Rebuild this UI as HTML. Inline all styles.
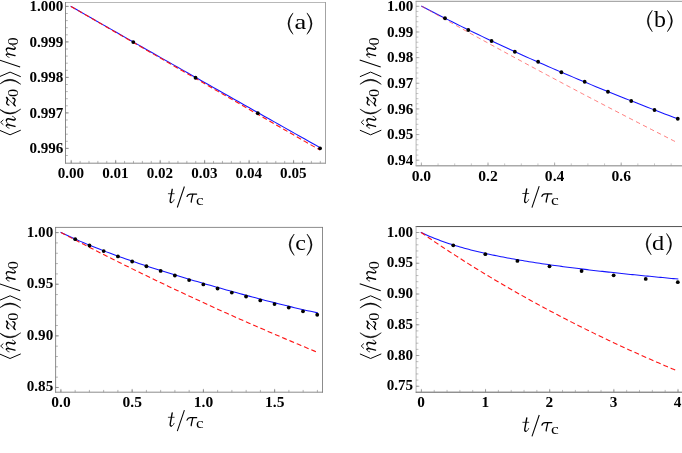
<!DOCTYPE html>
<html><head><meta charset="utf-8"><title>figure</title>
<style>
html,body{margin:0;padding:0;background:#fff;}
svg{display:block;}
text{font-family:"Liberation Serif",serif;fill:#000;}
.tl{font-weight:bold;font-size:15.1px;}
</style></head><body>
<svg width="682" height="453" viewBox="0 0 682 453" >
<rect width="682" height="453" fill="#fff"/>
<g opacity="0.999">
<line x1="65.1" y1="2.5" x2="325.9" y2="2.5" stroke="#999" stroke-width="0.7"/>
<line x1="65.5" y1="2.1" x2="65.5" y2="163.6" stroke="#6a6a6a" stroke-width="0.8"/>
<line x1="65.1" y1="163.2" x2="325.9" y2="163.2" stroke="#8a8a8a" stroke-width="1.0"/>
<line x1="325.5" y1="2.1" x2="325.5" y2="163.6" stroke="#999" stroke-width="0.9"/>
<line x1="71.20" y1="163.2" x2="71.20" y2="160.89999999999998" stroke="#777" stroke-width="0.55"/>
<line x1="80.10" y1="163.2" x2="80.10" y2="160.89999999999998" stroke="#777" stroke-width="0.55"/>
<line x1="88.99" y1="163.2" x2="88.99" y2="160.89999999999998" stroke="#777" stroke-width="0.55"/>
<line x1="97.89" y1="163.2" x2="97.89" y2="160.89999999999998" stroke="#777" stroke-width="0.55"/>
<line x1="106.78" y1="163.2" x2="106.78" y2="160.89999999999998" stroke="#777" stroke-width="0.55"/>
<line x1="115.68" y1="163.2" x2="115.68" y2="160.89999999999998" stroke="#777" stroke-width="0.55"/>
<line x1="124.58" y1="163.2" x2="124.58" y2="160.89999999999998" stroke="#777" stroke-width="0.55"/>
<line x1="133.47" y1="163.2" x2="133.47" y2="160.89999999999998" stroke="#777" stroke-width="0.55"/>
<line x1="142.37" y1="163.2" x2="142.37" y2="160.89999999999998" stroke="#777" stroke-width="0.55"/>
<line x1="151.26" y1="163.2" x2="151.26" y2="160.89999999999998" stroke="#777" stroke-width="0.55"/>
<line x1="160.16" y1="163.2" x2="160.16" y2="160.89999999999998" stroke="#777" stroke-width="0.55"/>
<line x1="169.06" y1="163.2" x2="169.06" y2="160.89999999999998" stroke="#777" stroke-width="0.55"/>
<line x1="177.95" y1="163.2" x2="177.95" y2="160.89999999999998" stroke="#777" stroke-width="0.55"/>
<line x1="186.85" y1="163.2" x2="186.85" y2="160.89999999999998" stroke="#777" stroke-width="0.55"/>
<line x1="195.74" y1="163.2" x2="195.74" y2="160.89999999999998" stroke="#777" stroke-width="0.55"/>
<line x1="204.64" y1="163.2" x2="204.64" y2="160.89999999999998" stroke="#777" stroke-width="0.55"/>
<line x1="213.54" y1="163.2" x2="213.54" y2="160.89999999999998" stroke="#777" stroke-width="0.55"/>
<line x1="222.43" y1="163.2" x2="222.43" y2="160.89999999999998" stroke="#777" stroke-width="0.55"/>
<line x1="231.33" y1="163.2" x2="231.33" y2="160.89999999999998" stroke="#777" stroke-width="0.55"/>
<line x1="240.22" y1="163.2" x2="240.22" y2="160.89999999999998" stroke="#777" stroke-width="0.55"/>
<line x1="249.12" y1="163.2" x2="249.12" y2="160.89999999999998" stroke="#777" stroke-width="0.55"/>
<line x1="258.02" y1="163.2" x2="258.02" y2="160.89999999999998" stroke="#777" stroke-width="0.55"/>
<line x1="266.91" y1="163.2" x2="266.91" y2="160.89999999999998" stroke="#777" stroke-width="0.55"/>
<line x1="275.81" y1="163.2" x2="275.81" y2="160.89999999999998" stroke="#777" stroke-width="0.55"/>
<line x1="284.70" y1="163.2" x2="284.70" y2="160.89999999999998" stroke="#777" stroke-width="0.55"/>
<line x1="293.60" y1="163.2" x2="293.60" y2="160.89999999999998" stroke="#777" stroke-width="0.55"/>
<line x1="302.50" y1="163.2" x2="302.50" y2="160.89999999999998" stroke="#777" stroke-width="0.55"/>
<line x1="311.39" y1="163.2" x2="311.39" y2="160.89999999999998" stroke="#777" stroke-width="0.55"/>
<line x1="320.29" y1="163.2" x2="320.29" y2="160.89999999999998" stroke="#777" stroke-width="0.55"/>
<line x1="71.20" y1="163.2" x2="71.20" y2="159.89999999999998" stroke="#777" stroke-width="0.65"/>
<text x="70.90" y="178.0" class="tl" style="font-size:15.1px" text-anchor="middle">0.00</text>
<line x1="115.68" y1="163.2" x2="115.68" y2="159.89999999999998" stroke="#777" stroke-width="0.65"/>
<text x="115.38" y="178.0" class="tl" style="font-size:15.1px" text-anchor="middle">0.01</text>
<line x1="160.16" y1="163.2" x2="160.16" y2="159.89999999999998" stroke="#777" stroke-width="0.65"/>
<text x="159.86" y="178.0" class="tl" style="font-size:15.1px" text-anchor="middle">0.02</text>
<line x1="204.64" y1="163.2" x2="204.64" y2="159.89999999999998" stroke="#777" stroke-width="0.65"/>
<text x="204.34" y="178.0" class="tl" style="font-size:15.1px" text-anchor="middle">0.03</text>
<line x1="249.12" y1="163.2" x2="249.12" y2="159.89999999999998" stroke="#777" stroke-width="0.65"/>
<text x="248.82" y="178.0" class="tl" style="font-size:15.1px" text-anchor="middle">0.04</text>
<line x1="293.60" y1="163.2" x2="293.60" y2="159.89999999999998" stroke="#777" stroke-width="0.65"/>
<text x="293.30" y="178.0" class="tl" style="font-size:15.1px" text-anchor="middle">0.05</text>
<line x1="65.5" y1="6.40" x2="67.8" y2="6.40" stroke="#777" stroke-width="0.55"/>
<line x1="65.5" y1="13.50" x2="67.8" y2="13.50" stroke="#777" stroke-width="0.55"/>
<line x1="65.5" y1="20.60" x2="67.8" y2="20.60" stroke="#777" stroke-width="0.55"/>
<line x1="65.5" y1="27.70" x2="67.8" y2="27.70" stroke="#777" stroke-width="0.55"/>
<line x1="65.5" y1="34.80" x2="67.8" y2="34.80" stroke="#777" stroke-width="0.55"/>
<line x1="65.5" y1="41.90" x2="67.8" y2="41.90" stroke="#777" stroke-width="0.55"/>
<line x1="65.5" y1="49.00" x2="67.8" y2="49.00" stroke="#777" stroke-width="0.55"/>
<line x1="65.5" y1="56.10" x2="67.8" y2="56.10" stroke="#777" stroke-width="0.55"/>
<line x1="65.5" y1="63.20" x2="67.8" y2="63.20" stroke="#777" stroke-width="0.55"/>
<line x1="65.5" y1="70.30" x2="67.8" y2="70.30" stroke="#777" stroke-width="0.55"/>
<line x1="65.5" y1="77.40" x2="67.8" y2="77.40" stroke="#777" stroke-width="0.55"/>
<line x1="65.5" y1="84.50" x2="67.8" y2="84.50" stroke="#777" stroke-width="0.55"/>
<line x1="65.5" y1="91.60" x2="67.8" y2="91.60" stroke="#777" stroke-width="0.55"/>
<line x1="65.5" y1="98.70" x2="67.8" y2="98.70" stroke="#777" stroke-width="0.55"/>
<line x1="65.5" y1="105.80" x2="67.8" y2="105.80" stroke="#777" stroke-width="0.55"/>
<line x1="65.5" y1="112.90" x2="67.8" y2="112.90" stroke="#777" stroke-width="0.55"/>
<line x1="65.5" y1="120.00" x2="67.8" y2="120.00" stroke="#777" stroke-width="0.55"/>
<line x1="65.5" y1="127.10" x2="67.8" y2="127.10" stroke="#777" stroke-width="0.55"/>
<line x1="65.5" y1="134.20" x2="67.8" y2="134.20" stroke="#777" stroke-width="0.55"/>
<line x1="65.5" y1="141.30" x2="67.8" y2="141.30" stroke="#777" stroke-width="0.55"/>
<line x1="65.5" y1="148.40" x2="67.8" y2="148.40" stroke="#777" stroke-width="0.55"/>
<line x1="65.5" y1="155.50" x2="67.8" y2="155.50" stroke="#777" stroke-width="0.55"/>
<line x1="65.5" y1="6.40" x2="68.8" y2="6.40" stroke="#777" stroke-width="0.65"/>
<text x="63.4" y="11.00" class="tl" text-anchor="end">1.000</text>
<line x1="65.5" y1="41.90" x2="68.8" y2="41.90" stroke="#777" stroke-width="0.65"/>
<text x="63.4" y="46.50" class="tl" text-anchor="end">0.999</text>
<line x1="65.5" y1="77.40" x2="68.8" y2="77.40" stroke="#777" stroke-width="0.65"/>
<text x="63.4" y="82.00" class="tl" text-anchor="end">0.998</text>
<line x1="65.5" y1="112.90" x2="68.8" y2="112.90" stroke="#777" stroke-width="0.65"/>
<text x="63.4" y="117.50" class="tl" text-anchor="end">0.997</text>
<line x1="65.5" y1="148.40" x2="68.8" y2="148.40" stroke="#777" stroke-width="0.65"/>
<text x="63.4" y="153.00" class="tl" text-anchor="end">0.996</text>
<polyline points="71.00,6.40 76.08,9.31 81.17,12.22 86.25,15.13 91.33,18.03 96.42,20.94 101.50,23.84 106.58,26.74 111.67,29.65 116.75,32.55 121.83,35.45 126.92,38.34 132.00,41.24 137.08,44.14 142.17,47.03 147.25,49.93 152.33,52.82 157.42,55.71 162.50,58.60 167.59,61.49 172.67,64.38 177.75,67.27 182.84,70.15 187.92,73.04 193.00,75.92 198.09,78.80 203.17,81.69 208.25,84.57 213.34,87.44 218.42,90.32 223.50,93.20 228.59,96.08 233.67,98.95 238.75,101.82 243.84,104.70 248.92,107.57 254.00,110.44 259.09,113.31 264.17,116.18 269.25,119.04 274.34,121.91 279.42,124.77 284.50,127.64 289.59,130.50 294.67,133.36 299.75,136.22 304.84,139.08 309.92,141.94 315.00,144.79 320.09,147.65" fill="none" stroke="#1414ff" stroke-width="1.05" stroke-linecap="square"/>
<polyline points="71.00,6.40 76.08,9.35 81.17,12.29 86.25,15.23 91.33,18.18 96.42,21.12 101.50,24.06 106.58,27.01 111.67,29.95 116.75,32.89 121.83,35.83 126.92,38.77 132.00,41.71 137.08,44.65 142.17,47.59 147.25,50.53 152.33,53.47 157.42,56.40 162.50,59.34 167.59,62.28 172.67,65.21 177.75,68.15 182.84,71.08 187.92,74.02 193.00,76.95 198.09,79.88 203.17,82.82 208.25,85.75 213.34,88.68 218.42,91.61 223.50,94.55 228.59,97.48 233.67,100.41 238.75,103.34 243.84,106.26 248.92,109.19 254.00,112.12 259.09,115.05 264.17,117.98 269.25,120.90 274.34,123.83 279.42,126.76 284.50,129.68 289.59,132.61 294.67,135.53 299.75,138.45 304.84,141.38 309.92,144.30 315.00,147.22 320.09,150.14" fill="none" stroke="#ff1414" stroke-width="1.1" stroke-dasharray="5.0,2.9"/>
<circle cx="133.27" cy="42.11" r="1.9" fill="#000"/>
<circle cx="195.54" cy="77.75" r="1.9" fill="#000"/>
<circle cx="257.82" cy="113.25" r="1.9" fill="#000"/>
<circle cx="320.09" cy="148.29" r="1.9" fill="#000"/>
<g transform="translate(167.9,202.8) scale(1.0)"><g transform="translate(0.00,0)" fill="none" stroke="#000" stroke-linecap="round" stroke-linejoin="round"><path d="M4.3,-13.5 L2.4,-3.0 C2.0,-0.9 2.5,-0.3 3.4,-0.3" stroke-width="1.35"/><path d="M3.4,-0.3 C4.6,-0.3 5.6,-1.4 6.2,-3.1" stroke-width="0.75"/><path d="M0.4,-9.1 L6.3,-9.1" stroke-width="0.75"/></g><line x1="9.40" y1="4.7" x2="16.50" y2="-16.3" stroke="#000" stroke-width="1.05"/><g transform="translate(18.70,0)" fill="none" stroke="#000" stroke-linecap="round" stroke-linejoin="round"><path d="M0.4,-6.3 C1.0,-8.0 2.1,-8.7 3.6,-8.7 L10.1,-8.7" stroke-width="1.2"/><path d="M6.2,-8.5 C5.6,-5.6 4.7,-3.0 4.6,-0.7" stroke-width="1.25"/></g><text transform="translate(28.02,1.90) scale(1.163,1)" style="font-style:normal;font-weight:normal;font-size:14.68px">c</text></g>
<g transform="translate(15.45,137) rotate(-90)"><polyline points="6.80,-16.1 2.20,-5.4 6.80,5.3" fill="none" stroke="#000" stroke-width="1" stroke-linejoin="miter"/><g transform="translate(8.50,0)" fill="none" stroke="#000" stroke-linecap="round" stroke-linejoin="round"><path d="M0.3,-6.3 C0.8,-8.2 1.8,-9.2 2.8,-9.1" stroke-width="0.75"/><path d="M2.8,-9.1 C3.9,-9.0 3.9,-7.8 3.6,-6.6 L2.1,-0.5" stroke-width="1.45"/><path d="M3.3,-5.6 C4.7,-8.0 6.4,-9.2 7.9,-9.1" stroke-width="0.8"/><path d="M7.9,-9.1 C9.6,-9.0 9.9,-7.6 9.5,-6.0 L8.7,-2.7 C8.3,-1.0 8.7,-0.3 9.6,-0.3" stroke-width="1.45"/><path d="M9.6,-0.3 C10.7,-0.3 11.6,-1.3 12.2,-3.0" stroke-width="0.75"/></g><polyline points="12.20,-12.1 14.70,-14.8 17.20,-12.1" fill="none" stroke="#000" stroke-width="0.9"/><path d="M27.90,-16.1 Q17.90,-5.4 27.90,5.3 Q20.20,-5.4 27.90,-16.1Z" fill="#000" stroke="#000" stroke-width="0.5" stroke-linejoin="round"/><g transform="translate(30.40,0)" fill="none" stroke="#000" stroke-linecap="round" stroke-linejoin="round"><path d="M1.5,-6.6 C2.1,-8.6 3.5,-9.3 4.9,-8.5 C6.3,-7.7 8.1,-7.5 9.2,-9.0" stroke-width="1.35"/><path d="M9.2,-9.0 L0.8,-0.3" stroke-width="0.75"/><path d="M0.8,-0.3 C1.9,-2.0 3.5,-1.9 4.9,-1.0 C6.3,-0.1 7.9,0.1 8.6,-2.6" stroke-width="1.35"/></g><text transform="translate(39.94,2.90) scale(1.115,1)" style="font-style:normal;font-weight:normal;font-size:14.74px">0</text><path d="M52.70,-16.1 Q62.70,-5.4 52.70,5.3 Q60.40,-5.4 52.70,-16.1Z" fill="#000" stroke="#000" stroke-width="0.5" stroke-linejoin="round"/><polyline points="60.30,-16.1 64.90,-5.4 60.30,5.3" fill="none" stroke="#000" stroke-width="1" stroke-linejoin="miter"/><line x1="69.90" y1="4.7" x2="77.00" y2="-16.3" stroke="#000" stroke-width="1.05"/><g transform="translate(79.30,0)" fill="none" stroke="#000" stroke-linecap="round" stroke-linejoin="round"><path d="M0.3,-6.3 C0.8,-8.2 1.8,-9.2 2.8,-9.1" stroke-width="0.75"/><path d="M2.8,-9.1 C3.9,-9.0 3.9,-7.8 3.6,-6.6 L2.1,-0.5" stroke-width="1.45"/><path d="M3.3,-5.6 C4.7,-8.0 6.4,-9.2 7.9,-9.1" stroke-width="0.8"/><path d="M7.9,-9.1 C9.6,-9.0 9.9,-7.6 9.5,-6.0 L8.7,-2.7 C8.3,-1.0 8.7,-0.3 9.6,-0.3" stroke-width="1.45"/><path d="M9.6,-0.3 C10.7,-0.3 11.6,-1.3 12.2,-3.0" stroke-width="0.75"/></g><text transform="translate(91.44,2.90) scale(1.115,1)" style="font-style:normal;font-weight:normal;font-size:14.74px">0</text></g>
<g transform="translate(0,29.0)"><path d="M293.00,-16.1 Q283.00,-5.4 293.00,5.3 Q285.30,-5.4 293.00,-16.1Z" fill="#000" stroke="#000" stroke-width="0.5" stroke-linejoin="round"/><text transform="translate(294.57,0.15) scale(1.301,1)" style="font-style:normal;font-weight:normal;font-size:20.43px">a</text><path d="M307.00,-16.1 Q317.00,-5.4 307.00,5.3 Q314.70,-5.4 307.00,-16.1Z" fill="#000" stroke="#000" stroke-width="0.5" stroke-linejoin="round"/></g>
<line x1="415.70000000000005" y1="1.3" x2="687" y2="1.3" stroke="#777" stroke-width="0.8"/>
<line x1="416.1" y1="0.9" x2="416.1" y2="166.1" stroke="#999" stroke-width="0.7"/>
<line x1="415.70000000000005" y1="165.7" x2="687" y2="165.7" stroke="#aaa" stroke-width="1.4"/>
<line x1="421.40" y1="165.7" x2="421.40" y2="163.39999999999998" stroke="#999" stroke-width="0.55"/>
<line x1="438.05" y1="165.7" x2="438.05" y2="163.39999999999998" stroke="#999" stroke-width="0.55"/>
<line x1="454.70" y1="165.7" x2="454.70" y2="163.39999999999998" stroke="#999" stroke-width="0.55"/>
<line x1="471.35" y1="165.7" x2="471.35" y2="163.39999999999998" stroke="#999" stroke-width="0.55"/>
<line x1="488.00" y1="165.7" x2="488.00" y2="163.39999999999998" stroke="#999" stroke-width="0.55"/>
<line x1="504.65" y1="165.7" x2="504.65" y2="163.39999999999998" stroke="#999" stroke-width="0.55"/>
<line x1="521.30" y1="165.7" x2="521.30" y2="163.39999999999998" stroke="#999" stroke-width="0.55"/>
<line x1="537.95" y1="165.7" x2="537.95" y2="163.39999999999998" stroke="#999" stroke-width="0.55"/>
<line x1="554.60" y1="165.7" x2="554.60" y2="163.39999999999998" stroke="#999" stroke-width="0.55"/>
<line x1="571.25" y1="165.7" x2="571.25" y2="163.39999999999998" stroke="#999" stroke-width="0.55"/>
<line x1="587.90" y1="165.7" x2="587.90" y2="163.39999999999998" stroke="#999" stroke-width="0.55"/>
<line x1="604.55" y1="165.7" x2="604.55" y2="163.39999999999998" stroke="#999" stroke-width="0.55"/>
<line x1="621.20" y1="165.7" x2="621.20" y2="163.39999999999998" stroke="#999" stroke-width="0.55"/>
<line x1="637.85" y1="165.7" x2="637.85" y2="163.39999999999998" stroke="#999" stroke-width="0.55"/>
<line x1="654.50" y1="165.7" x2="654.50" y2="163.39999999999998" stroke="#999" stroke-width="0.55"/>
<line x1="671.15" y1="165.7" x2="671.15" y2="163.39999999999998" stroke="#999" stroke-width="0.55"/>
<line x1="421.40" y1="165.7" x2="421.40" y2="162.39999999999998" stroke="#999" stroke-width="0.65"/>
<text x="421.40" y="180.5" class="tl" style="font-size:15.6px" text-anchor="middle">0.0</text>
<line x1="488.00" y1="165.7" x2="488.00" y2="162.39999999999998" stroke="#999" stroke-width="0.65"/>
<text x="488.00" y="180.5" class="tl" style="font-size:15.6px" text-anchor="middle">0.2</text>
<line x1="554.60" y1="165.7" x2="554.60" y2="162.39999999999998" stroke="#999" stroke-width="0.65"/>
<text x="554.60" y="180.5" class="tl" style="font-size:15.6px" text-anchor="middle">0.4</text>
<line x1="621.20" y1="165.7" x2="621.20" y2="162.39999999999998" stroke="#999" stroke-width="0.65"/>
<text x="621.20" y="180.5" class="tl" style="font-size:15.6px" text-anchor="middle">0.6</text>
<line x1="416.1" y1="6.33" x2="418.40000000000003" y2="6.33" stroke="#999" stroke-width="0.55"/>
<line x1="416.1" y1="11.46" x2="418.40000000000003" y2="11.46" stroke="#999" stroke-width="0.55"/>
<line x1="416.1" y1="16.59" x2="418.40000000000003" y2="16.59" stroke="#999" stroke-width="0.55"/>
<line x1="416.1" y1="21.72" x2="418.40000000000003" y2="21.72" stroke="#999" stroke-width="0.55"/>
<line x1="416.1" y1="26.85" x2="418.40000000000003" y2="26.85" stroke="#999" stroke-width="0.55"/>
<line x1="416.1" y1="31.98" x2="418.40000000000003" y2="31.98" stroke="#999" stroke-width="0.55"/>
<line x1="416.1" y1="37.10" x2="418.40000000000003" y2="37.10" stroke="#999" stroke-width="0.55"/>
<line x1="416.1" y1="42.23" x2="418.40000000000003" y2="42.23" stroke="#999" stroke-width="0.55"/>
<line x1="416.1" y1="47.36" x2="418.40000000000003" y2="47.36" stroke="#999" stroke-width="0.55"/>
<line x1="416.1" y1="52.49" x2="418.40000000000003" y2="52.49" stroke="#999" stroke-width="0.55"/>
<line x1="416.1" y1="57.62" x2="418.40000000000003" y2="57.62" stroke="#999" stroke-width="0.55"/>
<line x1="416.1" y1="62.75" x2="418.40000000000003" y2="62.75" stroke="#999" stroke-width="0.55"/>
<line x1="416.1" y1="67.88" x2="418.40000000000003" y2="67.88" stroke="#999" stroke-width="0.55"/>
<line x1="416.1" y1="73.01" x2="418.40000000000003" y2="73.01" stroke="#999" stroke-width="0.55"/>
<line x1="416.1" y1="78.14" x2="418.40000000000003" y2="78.14" stroke="#999" stroke-width="0.55"/>
<line x1="416.1" y1="83.27" x2="418.40000000000003" y2="83.27" stroke="#999" stroke-width="0.55"/>
<line x1="416.1" y1="88.39" x2="418.40000000000003" y2="88.39" stroke="#999" stroke-width="0.55"/>
<line x1="416.1" y1="93.52" x2="418.40000000000003" y2="93.52" stroke="#999" stroke-width="0.55"/>
<line x1="416.1" y1="98.65" x2="418.40000000000003" y2="98.65" stroke="#999" stroke-width="0.55"/>
<line x1="416.1" y1="103.78" x2="418.40000000000003" y2="103.78" stroke="#999" stroke-width="0.55"/>
<line x1="416.1" y1="108.91" x2="418.40000000000003" y2="108.91" stroke="#999" stroke-width="0.55"/>
<line x1="416.1" y1="114.04" x2="418.40000000000003" y2="114.04" stroke="#999" stroke-width="0.55"/>
<line x1="416.1" y1="119.17" x2="418.40000000000003" y2="119.17" stroke="#999" stroke-width="0.55"/>
<line x1="416.1" y1="124.30" x2="418.40000000000003" y2="124.30" stroke="#999" stroke-width="0.55"/>
<line x1="416.1" y1="129.43" x2="418.40000000000003" y2="129.43" stroke="#999" stroke-width="0.55"/>
<line x1="416.1" y1="134.56" x2="418.40000000000003" y2="134.56" stroke="#999" stroke-width="0.55"/>
<line x1="416.1" y1="139.68" x2="418.40000000000003" y2="139.68" stroke="#999" stroke-width="0.55"/>
<line x1="416.1" y1="144.81" x2="418.40000000000003" y2="144.81" stroke="#999" stroke-width="0.55"/>
<line x1="416.1" y1="149.94" x2="418.40000000000003" y2="149.94" stroke="#999" stroke-width="0.55"/>
<line x1="416.1" y1="155.07" x2="418.40000000000003" y2="155.07" stroke="#999" stroke-width="0.55"/>
<line x1="416.1" y1="160.20" x2="418.40000000000003" y2="160.20" stroke="#999" stroke-width="0.55"/>
<line x1="416.1" y1="6.33" x2="419.40000000000003" y2="6.33" stroke="#999" stroke-width="0.65"/>
<text x="413.3" y="10.93" class="tl" text-anchor="end">1.00</text>
<line x1="416.1" y1="31.98" x2="419.40000000000003" y2="31.98" stroke="#999" stroke-width="0.65"/>
<text x="413.3" y="36.58" class="tl" text-anchor="end">0.99</text>
<line x1="416.1" y1="57.62" x2="419.40000000000003" y2="57.62" stroke="#999" stroke-width="0.65"/>
<text x="413.3" y="62.22" class="tl" text-anchor="end">0.98</text>
<line x1="416.1" y1="83.27" x2="419.40000000000003" y2="83.27" stroke="#999" stroke-width="0.65"/>
<text x="413.3" y="87.87" class="tl" text-anchor="end">0.97</text>
<line x1="416.1" y1="108.91" x2="419.40000000000003" y2="108.91" stroke="#999" stroke-width="0.65"/>
<text x="413.3" y="113.51" class="tl" text-anchor="end">0.96</text>
<line x1="416.1" y1="134.56" x2="419.40000000000003" y2="134.56" stroke="#999" stroke-width="0.65"/>
<text x="413.3" y="139.16" class="tl" text-anchor="end">0.95</text>
<line x1="416.1" y1="160.20" x2="419.40000000000003" y2="160.20" stroke="#999" stroke-width="0.65"/>
<text x="413.3" y="164.80" class="tl" text-anchor="end">0.94</text>
<polyline points="421.75,6.25 426.09,8.52 430.43,10.77 434.77,13.01 439.11,15.23 443.45,17.44 447.79,19.63 452.13,21.80 456.47,23.96 460.80,26.11 465.14,28.24 469.48,30.36 473.82,32.46 478.16,34.55 482.50,36.63 486.84,38.69 491.18,40.74 495.52,42.77 499.86,44.80 504.20,46.81 508.54,48.80 512.88,50.79 517.22,52.76 521.56,54.72 525.90,56.67 530.24,58.61 534.57,60.53 538.91,62.45 543.25,64.35 547.59,66.24 551.93,68.12 556.27,69.99 560.61,71.86 564.95,73.71 569.29,75.55 573.63,77.38 577.97,79.20 582.31,81.01 586.65,82.81 590.99,84.61 595.33,86.39 599.67,88.17 604.01,89.94 608.34,91.70 612.68,93.45 617.02,95.19 621.36,96.93 625.70,98.66 630.04,100.38 634.38,102.09 638.72,103.80 643.06,105.50 647.40,107.20 651.74,108.88 656.08,110.56 660.42,112.24 664.76,113.91 669.10,115.57 673.44,117.23 677.78,118.89" fill="none" stroke="#1414ff" stroke-width="1.05" stroke-linecap="square"/>
<polyline points="421.75,6.25 426.09,8.69 430.43,11.13 434.77,13.57 439.11,16.00 443.45,18.42 447.79,20.84 452.13,23.26 456.47,25.67 460.80,28.07 465.14,30.48 469.48,32.87 473.82,35.27 478.16,37.65 482.50,40.04 486.84,42.42 491.18,44.79 495.52,47.16 499.86,49.53 504.20,51.89 508.54,54.25 512.88,56.60 517.22,58.95 521.56,61.29 525.90,63.63 530.24,65.97 534.57,68.30 538.91,70.63 543.25,72.95 547.59,75.27 551.93,77.58 556.27,79.89 560.61,82.19 564.95,84.50 569.29,86.79 573.63,89.08 577.97,91.37 582.31,93.66 586.65,95.94 590.99,98.21 595.33,100.48 599.67,102.75 604.01,105.01 608.34,107.27 612.68,109.53 617.02,111.78 621.36,114.02 625.70,116.27 630.04,118.51 634.38,120.74 638.72,122.97 643.06,125.20 647.40,127.42 651.74,129.64 656.08,131.85 660.42,134.06 664.76,136.27 669.10,138.47 673.44,140.67 677.78,142.86" fill="none" stroke="#ff4a4a" stroke-width="0.7" stroke-dasharray="4.5,3.35"/>
<circle cx="445.02" cy="18.24" r="1.9" fill="#000"/>
<circle cx="468.30" cy="29.99" r="1.9" fill="#000"/>
<circle cx="491.57" cy="41.01" r="1.9" fill="#000"/>
<circle cx="514.85" cy="51.74" r="1.9" fill="#000"/>
<circle cx="538.12" cy="61.75" r="1.9" fill="#000"/>
<circle cx="561.40" cy="72.25" r="1.9" fill="#000"/>
<circle cx="584.67" cy="81.75" r="1.9" fill="#000"/>
<circle cx="607.95" cy="91.76" r="1.9" fill="#000"/>
<circle cx="631.23" cy="101.00" r="1.9" fill="#000"/>
<circle cx="654.50" cy="110.01" r="1.9" fill="#000"/>
<circle cx="677.78" cy="118.76" r="1.9" fill="#000"/>
<g transform="translate(522.3,202.8) scale(1.025)"><g transform="translate(0.00,0)" fill="none" stroke="#000" stroke-linecap="round" stroke-linejoin="round"><path d="M4.3,-13.5 L2.4,-3.0 C2.0,-0.9 2.5,-0.3 3.4,-0.3" stroke-width="1.35"/><path d="M3.4,-0.3 C4.6,-0.3 5.6,-1.4 6.2,-3.1" stroke-width="0.75"/><path d="M0.4,-9.1 L6.3,-9.1" stroke-width="0.75"/></g><line x1="9.40" y1="4.7" x2="16.50" y2="-16.3" stroke="#000" stroke-width="1.05"/><g transform="translate(18.70,0)" fill="none" stroke="#000" stroke-linecap="round" stroke-linejoin="round"><path d="M0.4,-6.3 C1.0,-8.0 2.1,-8.7 3.6,-8.7 L10.1,-8.7" stroke-width="1.2"/><path d="M6.2,-8.5 C5.6,-5.6 4.7,-3.0 4.6,-0.7" stroke-width="1.25"/></g><text transform="translate(28.02,1.90) scale(1.163,1)" style="font-style:normal;font-weight:normal;font-size:14.68px">c</text></g>
<g transform="translate(376,137) rotate(-90)"><polyline points="6.80,-16.1 2.20,-5.4 6.80,5.3" fill="none" stroke="#000" stroke-width="1" stroke-linejoin="miter"/><g transform="translate(8.50,0)" fill="none" stroke="#000" stroke-linecap="round" stroke-linejoin="round"><path d="M0.3,-6.3 C0.8,-8.2 1.8,-9.2 2.8,-9.1" stroke-width="0.75"/><path d="M2.8,-9.1 C3.9,-9.0 3.9,-7.8 3.6,-6.6 L2.1,-0.5" stroke-width="1.45"/><path d="M3.3,-5.6 C4.7,-8.0 6.4,-9.2 7.9,-9.1" stroke-width="0.8"/><path d="M7.9,-9.1 C9.6,-9.0 9.9,-7.6 9.5,-6.0 L8.7,-2.7 C8.3,-1.0 8.7,-0.3 9.6,-0.3" stroke-width="1.45"/><path d="M9.6,-0.3 C10.7,-0.3 11.6,-1.3 12.2,-3.0" stroke-width="0.75"/></g><polyline points="12.20,-12.1 14.70,-14.8 17.20,-12.1" fill="none" stroke="#000" stroke-width="0.9"/><path d="M27.90,-16.1 Q17.90,-5.4 27.90,5.3 Q20.20,-5.4 27.90,-16.1Z" fill="#000" stroke="#000" stroke-width="0.5" stroke-linejoin="round"/><g transform="translate(30.40,0)" fill="none" stroke="#000" stroke-linecap="round" stroke-linejoin="round"><path d="M1.5,-6.6 C2.1,-8.6 3.5,-9.3 4.9,-8.5 C6.3,-7.7 8.1,-7.5 9.2,-9.0" stroke-width="1.35"/><path d="M9.2,-9.0 L0.8,-0.3" stroke-width="0.75"/><path d="M0.8,-0.3 C1.9,-2.0 3.5,-1.9 4.9,-1.0 C6.3,-0.1 7.9,0.1 8.6,-2.6" stroke-width="1.35"/></g><text transform="translate(39.94,2.90) scale(1.115,1)" style="font-style:normal;font-weight:normal;font-size:14.74px">0</text><path d="M52.70,-16.1 Q62.70,-5.4 52.70,5.3 Q60.40,-5.4 52.70,-16.1Z" fill="#000" stroke="#000" stroke-width="0.5" stroke-linejoin="round"/><polyline points="60.30,-16.1 64.90,-5.4 60.30,5.3" fill="none" stroke="#000" stroke-width="1" stroke-linejoin="miter"/><line x1="69.90" y1="4.7" x2="77.00" y2="-16.3" stroke="#000" stroke-width="1.05"/><g transform="translate(79.30,0)" fill="none" stroke="#000" stroke-linecap="round" stroke-linejoin="round"><path d="M0.3,-6.3 C0.8,-8.2 1.8,-9.2 2.8,-9.1" stroke-width="0.75"/><path d="M2.8,-9.1 C3.9,-9.0 3.9,-7.8 3.6,-6.6 L2.1,-0.5" stroke-width="1.45"/><path d="M3.3,-5.6 C4.7,-8.0 6.4,-9.2 7.9,-9.1" stroke-width="0.8"/><path d="M7.9,-9.1 C9.6,-9.0 9.9,-7.6 9.5,-6.0 L8.7,-2.7 C8.3,-1.0 8.7,-0.3 9.6,-0.3" stroke-width="1.45"/><path d="M9.6,-0.3 C10.7,-0.3 11.6,-1.3 12.2,-3.0" stroke-width="0.75"/></g><text transform="translate(91.44,2.90) scale(1.115,1)" style="font-style:normal;font-weight:normal;font-size:14.74px">0</text></g>
<g transform="translate(0,26.4)"><path d="M652.30,-16.1 Q642.30,-5.4 652.30,5.3 Q644.60,-5.4 652.30,-16.1Z" fill="#000" stroke="#000" stroke-width="0.5" stroke-linejoin="round"/><text transform="translate(654.10,0.15) scale(1.071,1)" style="font-style:normal;font-weight:normal;font-size:22.32px">b</text><path d="M667.40,-16.1 Q677.40,-5.4 667.40,5.3 Q675.10,-5.4 667.40,-16.1Z" fill="#000" stroke="#000" stroke-width="0.5" stroke-linejoin="round"/></g>
<line x1="55.2" y1="227.4" x2="322.9" y2="227.4" stroke="#777" stroke-width="0.85"/>
<line x1="55.6" y1="227.0" x2="55.6" y2="392.59999999999997" stroke="#777" stroke-width="0.85"/>
<line x1="55.2" y1="392.2" x2="322.9" y2="392.2" stroke="#777" stroke-width="0.85"/>
<line x1="322.5" y1="227.0" x2="322.5" y2="392.59999999999997" stroke="#777" stroke-width="0.85"/>
<line x1="60.90" y1="392.2" x2="60.90" y2="389.9" stroke="#777" stroke-width="0.55"/>
<line x1="75.15" y1="392.2" x2="75.15" y2="389.9" stroke="#777" stroke-width="0.55"/>
<line x1="89.40" y1="392.2" x2="89.40" y2="389.9" stroke="#777" stroke-width="0.55"/>
<line x1="103.65" y1="392.2" x2="103.65" y2="389.9" stroke="#777" stroke-width="0.55"/>
<line x1="117.90" y1="392.2" x2="117.90" y2="389.9" stroke="#777" stroke-width="0.55"/>
<line x1="132.15" y1="392.2" x2="132.15" y2="389.9" stroke="#777" stroke-width="0.55"/>
<line x1="146.40" y1="392.2" x2="146.40" y2="389.9" stroke="#777" stroke-width="0.55"/>
<line x1="160.65" y1="392.2" x2="160.65" y2="389.9" stroke="#777" stroke-width="0.55"/>
<line x1="174.90" y1="392.2" x2="174.90" y2="389.9" stroke="#777" stroke-width="0.55"/>
<line x1="189.15" y1="392.2" x2="189.15" y2="389.9" stroke="#777" stroke-width="0.55"/>
<line x1="203.40" y1="392.2" x2="203.40" y2="389.9" stroke="#777" stroke-width="0.55"/>
<line x1="217.65" y1="392.2" x2="217.65" y2="389.9" stroke="#777" stroke-width="0.55"/>
<line x1="231.90" y1="392.2" x2="231.90" y2="389.9" stroke="#777" stroke-width="0.55"/>
<line x1="246.15" y1="392.2" x2="246.15" y2="389.9" stroke="#777" stroke-width="0.55"/>
<line x1="260.40" y1="392.2" x2="260.40" y2="389.9" stroke="#777" stroke-width="0.55"/>
<line x1="274.65" y1="392.2" x2="274.65" y2="389.9" stroke="#777" stroke-width="0.55"/>
<line x1="288.90" y1="392.2" x2="288.90" y2="389.9" stroke="#777" stroke-width="0.55"/>
<line x1="303.15" y1="392.2" x2="303.15" y2="389.9" stroke="#777" stroke-width="0.55"/>
<line x1="317.40" y1="392.2" x2="317.40" y2="389.9" stroke="#777" stroke-width="0.55"/>
<line x1="60.90" y1="392.2" x2="60.90" y2="388.9" stroke="#777" stroke-width="0.65"/>
<text x="61.00" y="406.7" class="tl" style="font-size:15.5px" text-anchor="middle">0.0</text>
<line x1="132.15" y1="392.2" x2="132.15" y2="388.9" stroke="#777" stroke-width="0.65"/>
<text x="132.25" y="406.7" class="tl" style="font-size:15.5px" text-anchor="middle">0.5</text>
<line x1="203.40" y1="392.2" x2="203.40" y2="388.9" stroke="#777" stroke-width="0.65"/>
<text x="203.50" y="406.7" class="tl" style="font-size:15.5px" text-anchor="middle">1.0</text>
<line x1="274.65" y1="392.2" x2="274.65" y2="388.9" stroke="#777" stroke-width="0.65"/>
<text x="274.75" y="406.7" class="tl" style="font-size:15.5px" text-anchor="middle">1.5</text>
<line x1="55.6" y1="232.60" x2="57.9" y2="232.60" stroke="#777" stroke-width="0.55"/>
<line x1="55.6" y1="242.93" x2="57.9" y2="242.93" stroke="#777" stroke-width="0.55"/>
<line x1="55.6" y1="253.25" x2="57.9" y2="253.25" stroke="#777" stroke-width="0.55"/>
<line x1="55.6" y1="263.58" x2="57.9" y2="263.58" stroke="#777" stroke-width="0.55"/>
<line x1="55.6" y1="273.90" x2="57.9" y2="273.90" stroke="#777" stroke-width="0.55"/>
<line x1="55.6" y1="284.23" x2="57.9" y2="284.23" stroke="#777" stroke-width="0.55"/>
<line x1="55.6" y1="294.55" x2="57.9" y2="294.55" stroke="#777" stroke-width="0.55"/>
<line x1="55.6" y1="304.88" x2="57.9" y2="304.88" stroke="#777" stroke-width="0.55"/>
<line x1="55.6" y1="315.20" x2="57.9" y2="315.20" stroke="#777" stroke-width="0.55"/>
<line x1="55.6" y1="325.52" x2="57.9" y2="325.52" stroke="#777" stroke-width="0.55"/>
<line x1="55.6" y1="335.85" x2="57.9" y2="335.85" stroke="#777" stroke-width="0.55"/>
<line x1="55.6" y1="346.17" x2="57.9" y2="346.17" stroke="#777" stroke-width="0.55"/>
<line x1="55.6" y1="356.50" x2="57.9" y2="356.50" stroke="#777" stroke-width="0.55"/>
<line x1="55.6" y1="366.82" x2="57.9" y2="366.82" stroke="#777" stroke-width="0.55"/>
<line x1="55.6" y1="377.15" x2="57.9" y2="377.15" stroke="#777" stroke-width="0.55"/>
<line x1="55.6" y1="387.48" x2="57.9" y2="387.48" stroke="#777" stroke-width="0.55"/>
<line x1="55.6" y1="232.60" x2="58.9" y2="232.60" stroke="#777" stroke-width="0.65"/>
<text x="53.2" y="236.60" class="tl" text-anchor="end">1.00</text>
<line x1="55.6" y1="284.23" x2="58.9" y2="284.23" stroke="#777" stroke-width="0.65"/>
<text x="53.2" y="288.23" class="tl" text-anchor="end">0.95</text>
<line x1="55.6" y1="335.85" x2="58.9" y2="335.85" stroke="#777" stroke-width="0.65"/>
<text x="53.2" y="339.85" class="tl" text-anchor="end">0.90</text>
<line x1="55.6" y1="387.48" x2="58.9" y2="387.48" stroke="#777" stroke-width="0.65"/>
<text x="53.2" y="391.48" class="tl" text-anchor="end">0.85</text>
<polyline points="61.00,232.50 64.24,234.05 67.49,235.57 70.73,237.06 73.97,238.52 77.22,239.96 80.46,241.37 83.70,242.76 86.95,244.12 90.19,245.46 93.43,246.78 96.68,248.08 99.92,249.36 103.16,250.62 106.41,251.87 109.65,253.09 112.89,254.30 116.14,255.49 119.38,256.66 122.62,257.82 125.87,258.97 129.11,260.10 132.36,261.22 135.60,262.33 138.84,263.42 142.09,264.50 145.33,265.58 148.57,266.64 151.82,267.69 155.06,268.73 158.30,269.76 161.55,270.79 164.79,271.81 168.03,272.81 171.28,273.81 174.52,274.81 177.76,275.79 181.01,276.77 184.25,277.75 187.49,278.71 190.74,279.68 193.98,280.63 197.22,281.58 200.47,282.53 203.71,283.47 206.95,284.40 210.20,285.33 213.44,286.26 216.68,287.18 219.93,288.09 223.17,289.00 226.41,289.91 229.66,290.81 232.90,291.71 236.14,292.60 239.39,293.49 242.63,294.37 245.87,295.25 249.12,296.12 252.36,296.98 255.61,297.84 258.85,298.70 262.09,299.55 265.34,300.39 268.58,301.23 271.82,302.06 275.07,302.88 278.31,303.70 281.55,304.50 284.80,305.30 288.04,306.09 291.28,306.88 294.53,307.65 297.77,308.41 301.01,309.16 304.26,309.91 307.50,310.64 310.74,311.36 313.99,312.06 317.23,312.76" fill="none" stroke="#1414ff" stroke-width="1.05" stroke-linecap="square"/>
<polyline points="61.00,232.50 64.24,234.21 67.49,235.92 70.73,237.62 73.97,239.31 77.22,241.00 80.46,242.68 83.70,244.36 86.95,246.03 90.19,247.70 93.43,249.36 96.68,251.02 99.92,252.67 103.16,254.31 106.41,255.95 109.65,257.59 112.89,259.22 116.14,260.84 119.38,262.46 122.62,264.07 125.87,265.68 129.11,267.28 132.36,268.88 135.60,270.48 138.84,272.06 142.09,273.65 145.33,275.22 148.57,276.80 151.82,278.36 155.06,279.93 158.30,281.48 161.55,283.04 164.79,284.58 168.03,286.13 171.28,287.67 174.52,289.20 177.76,290.73 181.01,292.25 184.25,293.77 187.49,295.29 190.74,296.79 193.98,298.30 197.22,299.80 200.47,301.30 203.71,302.79 206.95,304.27 210.20,305.75 213.44,307.23 216.68,308.70 219.93,310.17 223.17,311.64 226.41,313.10 229.66,314.55 232.90,316.00 236.14,317.45 239.39,318.89 242.63,320.32 245.87,321.76 249.12,323.19 252.36,324.61 255.61,326.03 258.85,327.44 262.09,328.86 265.34,330.26 268.58,331.66 271.82,333.06 275.07,334.46 278.31,335.85 281.55,337.23 284.80,338.62 288.04,339.99 291.28,341.37 294.53,342.74 297.77,344.10 301.01,345.46 304.26,346.82 307.50,348.17 310.74,349.52 313.99,350.87 317.23,352.21" fill="none" stroke="#ff1414" stroke-width="1.1" stroke-dasharray="5.0,2.9"/>
<circle cx="75.23" cy="239.14" r="1.9" fill="#000"/>
<circle cx="89.47" cy="245.50" r="1.9" fill="#000"/>
<circle cx="103.70" cy="251.05" r="1.9" fill="#000"/>
<circle cx="117.94" cy="256.40" r="1.9" fill="#000"/>
<circle cx="132.18" cy="261.50" r="1.9" fill="#000"/>
<circle cx="146.41" cy="266.25" r="1.9" fill="#000"/>
<circle cx="160.64" cy="270.96" r="1.9" fill="#000"/>
<circle cx="174.88" cy="275.50" r="1.9" fill="#000"/>
<circle cx="189.12" cy="280.04" r="1.9" fill="#000"/>
<circle cx="203.35" cy="284.39" r="1.9" fill="#000"/>
<circle cx="217.59" cy="288.50" r="1.9" fill="#000"/>
<circle cx="231.82" cy="292.60" r="1.9" fill="#000"/>
<circle cx="246.06" cy="296.50" r="1.9" fill="#000"/>
<circle cx="260.29" cy="300.41" r="1.9" fill="#000"/>
<circle cx="274.52" cy="304.10" r="1.9" fill="#000"/>
<circle cx="288.76" cy="307.59" r="1.9" fill="#000"/>
<circle cx="303.00" cy="311.28" r="1.9" fill="#000"/>
<circle cx="317.23" cy="314.77" r="1.9" fill="#000"/>
<g transform="translate(167.9,426.4) scale(1.0)"><g transform="translate(0.00,0)" fill="none" stroke="#000" stroke-linecap="round" stroke-linejoin="round"><path d="M4.3,-13.5 L2.4,-3.0 C2.0,-0.9 2.5,-0.3 3.4,-0.3" stroke-width="1.35"/><path d="M3.4,-0.3 C4.6,-0.3 5.6,-1.4 6.2,-3.1" stroke-width="0.75"/><path d="M0.4,-9.1 L6.3,-9.1" stroke-width="0.75"/></g><line x1="9.40" y1="4.7" x2="16.50" y2="-16.3" stroke="#000" stroke-width="1.05"/><g transform="translate(18.70,0)" fill="none" stroke="#000" stroke-linecap="round" stroke-linejoin="round"><path d="M0.4,-6.3 C1.0,-8.0 2.1,-8.7 3.6,-8.7 L10.1,-8.7" stroke-width="1.2"/><path d="M6.2,-8.5 C5.6,-5.6 4.7,-3.0 4.6,-0.7" stroke-width="1.25"/></g><text transform="translate(28.02,1.90) scale(1.163,1)" style="font-style:normal;font-weight:normal;font-size:14.68px">c</text></g>
<g transform="translate(15.45,360.7) rotate(-90)"><polyline points="6.80,-16.1 2.20,-5.4 6.80,5.3" fill="none" stroke="#000" stroke-width="1" stroke-linejoin="miter"/><g transform="translate(8.50,0)" fill="none" stroke="#000" stroke-linecap="round" stroke-linejoin="round"><path d="M0.3,-6.3 C0.8,-8.2 1.8,-9.2 2.8,-9.1" stroke-width="0.75"/><path d="M2.8,-9.1 C3.9,-9.0 3.9,-7.8 3.6,-6.6 L2.1,-0.5" stroke-width="1.45"/><path d="M3.3,-5.6 C4.7,-8.0 6.4,-9.2 7.9,-9.1" stroke-width="0.8"/><path d="M7.9,-9.1 C9.6,-9.0 9.9,-7.6 9.5,-6.0 L8.7,-2.7 C8.3,-1.0 8.7,-0.3 9.6,-0.3" stroke-width="1.45"/><path d="M9.6,-0.3 C10.7,-0.3 11.6,-1.3 12.2,-3.0" stroke-width="0.75"/></g><polyline points="12.20,-12.1 14.70,-14.8 17.20,-12.1" fill="none" stroke="#000" stroke-width="0.9"/><path d="M27.90,-16.1 Q17.90,-5.4 27.90,5.3 Q20.20,-5.4 27.90,-16.1Z" fill="#000" stroke="#000" stroke-width="0.5" stroke-linejoin="round"/><g transform="translate(30.40,0)" fill="none" stroke="#000" stroke-linecap="round" stroke-linejoin="round"><path d="M1.5,-6.6 C2.1,-8.6 3.5,-9.3 4.9,-8.5 C6.3,-7.7 8.1,-7.5 9.2,-9.0" stroke-width="1.35"/><path d="M9.2,-9.0 L0.8,-0.3" stroke-width="0.75"/><path d="M0.8,-0.3 C1.9,-2.0 3.5,-1.9 4.9,-1.0 C6.3,-0.1 7.9,0.1 8.6,-2.6" stroke-width="1.35"/></g><text transform="translate(39.94,2.90) scale(1.115,1)" style="font-style:normal;font-weight:normal;font-size:14.74px">0</text><path d="M52.70,-16.1 Q62.70,-5.4 52.70,5.3 Q60.40,-5.4 52.70,-16.1Z" fill="#000" stroke="#000" stroke-width="0.5" stroke-linejoin="round"/><polyline points="60.30,-16.1 64.90,-5.4 60.30,5.3" fill="none" stroke="#000" stroke-width="1" stroke-linejoin="miter"/><line x1="69.90" y1="4.7" x2="77.00" y2="-16.3" stroke="#000" stroke-width="1.05"/><g transform="translate(79.30,0)" fill="none" stroke="#000" stroke-linecap="round" stroke-linejoin="round"><path d="M0.3,-6.3 C0.8,-8.2 1.8,-9.2 2.8,-9.1" stroke-width="0.75"/><path d="M2.8,-9.1 C3.9,-9.0 3.9,-7.8 3.6,-6.6 L2.1,-0.5" stroke-width="1.45"/><path d="M3.3,-5.6 C4.7,-8.0 6.4,-9.2 7.9,-9.1" stroke-width="0.8"/><path d="M7.9,-9.1 C9.6,-9.0 9.9,-7.6 9.5,-6.0 L8.7,-2.7 C8.3,-1.0 8.7,-0.3 9.6,-0.3" stroke-width="1.45"/><path d="M9.6,-0.3 C10.7,-0.3 11.6,-1.3 12.2,-3.0" stroke-width="0.75"/></g><text transform="translate(91.44,2.90) scale(1.115,1)" style="font-style:normal;font-weight:normal;font-size:14.74px">0</text></g>
<g transform="translate(0,250.1)"><path d="M294.20,-16.1 Q284.20,-5.4 294.20,5.3 Q286.50,-5.4 294.20,-16.1Z" fill="#000" stroke="#000" stroke-width="0.5" stroke-linejoin="round"/><text transform="translate(295.24,0.15) scale(1.139,1)" style="font-style:normal;font-weight:normal;font-size:21.06px">c</text><path d="M307.00,-16.1 Q317.00,-5.4 307.00,5.3 Q314.70,-5.4 307.00,-16.1Z" fill="#000" stroke="#000" stroke-width="0.5" stroke-linejoin="round"/></g>
<line x1="415.70000000000005" y1="226.55" x2="687" y2="226.55" stroke="#4a4a4a" stroke-width="0.95"/>
<line x1="416.1" y1="226.15" x2="416.1" y2="392.59999999999997" stroke="#999" stroke-width="0.7"/>
<line x1="415.70000000000005" y1="392.2" x2="687" y2="392.2" stroke="#555" stroke-width="0.95"/>
<line x1="421.40" y1="392.2" x2="421.40" y2="389.9" stroke="#888" stroke-width="0.55"/>
<line x1="434.23" y1="392.2" x2="434.23" y2="389.9" stroke="#888" stroke-width="0.55"/>
<line x1="447.06" y1="392.2" x2="447.06" y2="389.9" stroke="#888" stroke-width="0.55"/>
<line x1="459.89" y1="392.2" x2="459.89" y2="389.9" stroke="#888" stroke-width="0.55"/>
<line x1="472.72" y1="392.2" x2="472.72" y2="389.9" stroke="#888" stroke-width="0.55"/>
<line x1="485.55" y1="392.2" x2="485.55" y2="389.9" stroke="#888" stroke-width="0.55"/>
<line x1="498.38" y1="392.2" x2="498.38" y2="389.9" stroke="#888" stroke-width="0.55"/>
<line x1="511.21" y1="392.2" x2="511.21" y2="389.9" stroke="#888" stroke-width="0.55"/>
<line x1="524.04" y1="392.2" x2="524.04" y2="389.9" stroke="#888" stroke-width="0.55"/>
<line x1="536.87" y1="392.2" x2="536.87" y2="389.9" stroke="#888" stroke-width="0.55"/>
<line x1="549.70" y1="392.2" x2="549.70" y2="389.9" stroke="#888" stroke-width="0.55"/>
<line x1="562.53" y1="392.2" x2="562.53" y2="389.9" stroke="#888" stroke-width="0.55"/>
<line x1="575.36" y1="392.2" x2="575.36" y2="389.9" stroke="#888" stroke-width="0.55"/>
<line x1="588.19" y1="392.2" x2="588.19" y2="389.9" stroke="#888" stroke-width="0.55"/>
<line x1="601.02" y1="392.2" x2="601.02" y2="389.9" stroke="#888" stroke-width="0.55"/>
<line x1="613.85" y1="392.2" x2="613.85" y2="389.9" stroke="#888" stroke-width="0.55"/>
<line x1="626.68" y1="392.2" x2="626.68" y2="389.9" stroke="#888" stroke-width="0.55"/>
<line x1="639.51" y1="392.2" x2="639.51" y2="389.9" stroke="#888" stroke-width="0.55"/>
<line x1="652.34" y1="392.2" x2="652.34" y2="389.9" stroke="#888" stroke-width="0.55"/>
<line x1="665.17" y1="392.2" x2="665.17" y2="389.9" stroke="#888" stroke-width="0.55"/>
<line x1="678.00" y1="392.2" x2="678.00" y2="389.9" stroke="#888" stroke-width="0.55"/>
<line x1="421.40" y1="392.2" x2="421.40" y2="388.9" stroke="#888" stroke-width="0.65"/>
<text x="421.10" y="406.8" class="tl" style="font-size:15.3px" text-anchor="middle">0</text>
<line x1="485.55" y1="392.2" x2="485.55" y2="388.9" stroke="#888" stroke-width="0.65"/>
<text x="485.25" y="406.8" class="tl" style="font-size:15.3px" text-anchor="middle">1</text>
<line x1="549.70" y1="392.2" x2="549.70" y2="388.9" stroke="#888" stroke-width="0.65"/>
<text x="549.40" y="406.8" class="tl" style="font-size:15.3px" text-anchor="middle">2</text>
<line x1="613.85" y1="392.2" x2="613.85" y2="388.9" stroke="#888" stroke-width="0.65"/>
<text x="613.55" y="406.8" class="tl" style="font-size:15.3px" text-anchor="middle">3</text>
<line x1="678.00" y1="392.2" x2="678.00" y2="388.9" stroke="#888" stroke-width="0.65"/>
<text x="677.70" y="406.8" class="tl" style="font-size:15.3px" text-anchor="middle">4</text>
<line x1="416.1" y1="232.50" x2="418.40000000000003" y2="232.50" stroke="#888" stroke-width="0.55"/>
<line x1="416.1" y1="238.65" x2="418.40000000000003" y2="238.65" stroke="#888" stroke-width="0.55"/>
<line x1="416.1" y1="244.80" x2="418.40000000000003" y2="244.80" stroke="#888" stroke-width="0.55"/>
<line x1="416.1" y1="250.95" x2="418.40000000000003" y2="250.95" stroke="#888" stroke-width="0.55"/>
<line x1="416.1" y1="257.10" x2="418.40000000000003" y2="257.10" stroke="#888" stroke-width="0.55"/>
<line x1="416.1" y1="263.25" x2="418.40000000000003" y2="263.25" stroke="#888" stroke-width="0.55"/>
<line x1="416.1" y1="269.40" x2="418.40000000000003" y2="269.40" stroke="#888" stroke-width="0.55"/>
<line x1="416.1" y1="275.55" x2="418.40000000000003" y2="275.55" stroke="#888" stroke-width="0.55"/>
<line x1="416.1" y1="281.70" x2="418.40000000000003" y2="281.70" stroke="#888" stroke-width="0.55"/>
<line x1="416.1" y1="287.85" x2="418.40000000000003" y2="287.85" stroke="#888" stroke-width="0.55"/>
<line x1="416.1" y1="294.00" x2="418.40000000000003" y2="294.00" stroke="#888" stroke-width="0.55"/>
<line x1="416.1" y1="300.15" x2="418.40000000000003" y2="300.15" stroke="#888" stroke-width="0.55"/>
<line x1="416.1" y1="306.30" x2="418.40000000000003" y2="306.30" stroke="#888" stroke-width="0.55"/>
<line x1="416.1" y1="312.45" x2="418.40000000000003" y2="312.45" stroke="#888" stroke-width="0.55"/>
<line x1="416.1" y1="318.60" x2="418.40000000000003" y2="318.60" stroke="#888" stroke-width="0.55"/>
<line x1="416.1" y1="324.75" x2="418.40000000000003" y2="324.75" stroke="#888" stroke-width="0.55"/>
<line x1="416.1" y1="330.90" x2="418.40000000000003" y2="330.90" stroke="#888" stroke-width="0.55"/>
<line x1="416.1" y1="337.05" x2="418.40000000000003" y2="337.05" stroke="#888" stroke-width="0.55"/>
<line x1="416.1" y1="343.20" x2="418.40000000000003" y2="343.20" stroke="#888" stroke-width="0.55"/>
<line x1="416.1" y1="349.35" x2="418.40000000000003" y2="349.35" stroke="#888" stroke-width="0.55"/>
<line x1="416.1" y1="355.50" x2="418.40000000000003" y2="355.50" stroke="#888" stroke-width="0.55"/>
<line x1="416.1" y1="361.65" x2="418.40000000000003" y2="361.65" stroke="#888" stroke-width="0.55"/>
<line x1="416.1" y1="367.80" x2="418.40000000000003" y2="367.80" stroke="#888" stroke-width="0.55"/>
<line x1="416.1" y1="373.95" x2="418.40000000000003" y2="373.95" stroke="#888" stroke-width="0.55"/>
<line x1="416.1" y1="380.10" x2="418.40000000000003" y2="380.10" stroke="#888" stroke-width="0.55"/>
<line x1="416.1" y1="386.25" x2="418.40000000000003" y2="386.25" stroke="#888" stroke-width="0.55"/>
<line x1="416.1" y1="232.50" x2="419.40000000000003" y2="232.50" stroke="#888" stroke-width="0.65"/>
<text x="413.1" y="236.50" class="tl" text-anchor="end">1.00</text>
<line x1="416.1" y1="263.25" x2="419.40000000000003" y2="263.25" stroke="#888" stroke-width="0.65"/>
<text x="413.1" y="267.25" class="tl" text-anchor="end">0.95</text>
<line x1="416.1" y1="294.00" x2="419.40000000000003" y2="294.00" stroke="#888" stroke-width="0.65"/>
<text x="413.1" y="298.00" class="tl" text-anchor="end">0.90</text>
<line x1="416.1" y1="324.75" x2="419.40000000000003" y2="324.75" stroke="#888" stroke-width="0.65"/>
<text x="413.1" y="328.75" class="tl" text-anchor="end">0.85</text>
<line x1="416.1" y1="355.50" x2="419.40000000000003" y2="355.50" stroke="#888" stroke-width="0.65"/>
<text x="413.1" y="359.50" class="tl" text-anchor="end">0.80</text>
<line x1="416.1" y1="386.25" x2="419.40000000000003" y2="386.25" stroke="#888" stroke-width="0.65"/>
<text x="413.1" y="390.25" class="tl" text-anchor="end">0.75</text>
<polyline points="421.20,232.50 423.36,233.53 425.51,234.52 427.67,235.48 429.83,236.41 431.98,237.31 434.14,238.18 436.29,239.03 438.45,239.86 440.61,240.66 442.76,241.43 444.92,242.19 447.08,242.92 449.23,243.64 451.39,244.34 453.54,245.02 455.70,245.68 457.86,246.33 460.01,246.96 462.17,247.58 464.33,248.18 466.48,248.77 468.64,249.34 470.79,249.90 472.95,250.45 475.11,250.99 477.26,251.52 479.42,252.03 481.58,252.54 483.73,253.04 485.89,253.52 488.05,254.00 490.20,254.47 492.36,254.92 494.51,255.38 496.67,255.82 498.83,256.25 500.98,256.68 503.14,257.10 505.30,257.51 507.45,257.92 509.61,258.32 511.76,258.71 513.92,259.10 516.08,259.48 518.23,259.86 520.39,260.23 522.55,260.59 524.70,260.95 526.86,261.30 529.02,261.65 531.17,262.00 533.33,262.33 535.48,262.67 537.64,263.00 539.80,263.33 541.95,263.65 544.11,263.97 546.27,264.28 548.42,264.59 550.58,264.90 552.73,265.20 554.89,265.50 557.05,265.80 559.20,266.09 561.36,266.38 563.52,266.67 565.67,266.95 567.83,267.23 569.98,267.51 572.14,267.79 574.30,268.06 576.45,268.33 578.61,268.60 580.77,268.86 582.92,269.13 585.08,269.39 587.24,269.64 589.39,269.90 591.55,270.15 593.70,270.41 595.86,270.65 598.02,270.90 600.17,271.15 602.33,271.39 604.49,271.63 606.64,271.87 608.80,272.11 610.95,272.35 613.11,272.58 615.27,272.81 617.42,273.04 619.58,273.27 621.74,273.50 623.89,273.73 626.05,273.95 628.21,274.18 630.36,274.40 632.52,274.62 634.67,274.84 636.83,275.06 638.99,275.28 641.14,275.49 643.30,275.71 645.46,275.92 647.61,276.14 649.77,276.35 651.92,276.56 654.08,276.77 656.24,276.98 658.39,277.18 660.55,277.39 662.71,277.60 664.86,277.80 667.02,278.00 669.17,278.21 671.33,278.41 673.49,278.61 675.64,278.81 677.80,279.01" fill="none" stroke="#1414ff" stroke-width="1.05" stroke-linecap="square"/>
<polyline points="421.20,232.50 423.36,234.00 425.51,235.49 427.67,236.98 429.83,238.45 431.98,239.93 434.14,241.39 436.29,242.85 438.45,244.30 440.61,245.74 442.76,247.17 444.92,248.60 447.08,250.03 449.23,251.44 451.39,252.85 453.54,254.25 455.70,255.65 457.86,257.04 460.01,258.42 462.17,259.80 464.33,261.17 466.48,262.53 468.64,263.89 470.79,265.24 472.95,266.58 475.11,267.92 477.26,269.25 479.42,270.58 481.58,271.90 483.73,273.21 485.89,274.52 488.05,275.82 490.20,277.12 492.36,278.41 494.51,279.69 496.67,280.97 498.83,282.25 500.98,283.51 503.14,284.78 505.30,286.03 507.45,287.28 509.61,288.53 511.76,289.77 513.92,291.00 516.08,292.23 518.23,293.45 520.39,294.67 522.55,295.88 524.70,297.09 526.86,298.29 529.02,299.49 531.17,300.68 533.33,301.87 535.48,303.05 537.64,304.22 539.80,305.39 541.95,306.56 544.11,307.72 546.27,308.88 548.42,310.03 550.58,311.18 552.73,312.32 554.89,313.45 557.05,314.58 559.20,315.71 561.36,316.83 563.52,317.95 565.67,319.06 567.83,320.17 569.98,321.28 572.14,322.37 574.30,323.47 576.45,324.56 578.61,325.64 580.77,326.72 582.92,327.80 585.08,328.87 587.24,329.94 589.39,331.00 591.55,332.06 593.70,333.12 595.86,334.17 598.02,335.21 600.17,336.25 602.33,337.29 604.49,338.32 606.64,339.35 608.80,340.38 610.95,341.40 613.11,342.42 615.27,343.43 617.42,344.44 619.58,345.44 621.74,346.44 623.89,347.44 626.05,348.43 628.21,349.42 630.36,350.41 632.52,351.39 634.67,352.36 636.83,353.34 638.99,354.31 641.14,355.27 643.30,356.23 645.46,357.19 647.61,358.15 649.77,359.10 651.92,360.04 654.08,360.99 656.24,361.93 658.39,362.86 660.55,363.80 662.71,364.72 664.86,365.65 667.02,366.57 669.17,367.49 671.33,368.40 673.49,369.32 675.64,370.22 677.80,371.13" fill="none" stroke="#ff1414" stroke-width="1.1" stroke-dasharray="5.0,2.9"/>
<circle cx="453.27" cy="245.30" r="1.9" fill="#000"/>
<circle cx="485.35" cy="254.13" r="1.9" fill="#000"/>
<circle cx="517.42" cy="260.90" r="1.9" fill="#000"/>
<circle cx="549.50" cy="266.32" r="1.9" fill="#000"/>
<circle cx="581.58" cy="270.98" r="1.9" fill="#000"/>
<circle cx="613.65" cy="275.30" r="1.9" fill="#000"/>
<circle cx="645.73" cy="278.90" r="1.9" fill="#000"/>
<circle cx="677.80" cy="282.20" r="1.9" fill="#000"/>
<g transform="translate(522.4,431.6) scale(1.02)"><g transform="translate(0.00,0)" fill="none" stroke="#000" stroke-linecap="round" stroke-linejoin="round"><path d="M4.3,-13.5 L2.4,-3.0 C2.0,-0.9 2.5,-0.3 3.4,-0.3" stroke-width="1.35"/><path d="M3.4,-0.3 C4.6,-0.3 5.6,-1.4 6.2,-3.1" stroke-width="0.75"/><path d="M0.4,-9.1 L6.3,-9.1" stroke-width="0.75"/></g><line x1="9.40" y1="4.7" x2="16.50" y2="-16.3" stroke="#000" stroke-width="1.05"/><g transform="translate(18.70,0)" fill="none" stroke="#000" stroke-linecap="round" stroke-linejoin="round"><path d="M0.4,-6.3 C1.0,-8.0 2.1,-8.7 3.6,-8.7 L10.1,-8.7" stroke-width="1.2"/><path d="M6.2,-8.5 C5.6,-5.6 4.7,-3.0 4.6,-0.7" stroke-width="1.25"/></g><text transform="translate(28.02,1.90) scale(1.163,1)" style="font-style:normal;font-weight:normal;font-size:14.68px">c</text></g>
<g transform="translate(376,360.7) rotate(-90)"><polyline points="6.80,-16.1 2.20,-5.4 6.80,5.3" fill="none" stroke="#000" stroke-width="1" stroke-linejoin="miter"/><g transform="translate(8.50,0)" fill="none" stroke="#000" stroke-linecap="round" stroke-linejoin="round"><path d="M0.3,-6.3 C0.8,-8.2 1.8,-9.2 2.8,-9.1" stroke-width="0.75"/><path d="M2.8,-9.1 C3.9,-9.0 3.9,-7.8 3.6,-6.6 L2.1,-0.5" stroke-width="1.45"/><path d="M3.3,-5.6 C4.7,-8.0 6.4,-9.2 7.9,-9.1" stroke-width="0.8"/><path d="M7.9,-9.1 C9.6,-9.0 9.9,-7.6 9.5,-6.0 L8.7,-2.7 C8.3,-1.0 8.7,-0.3 9.6,-0.3" stroke-width="1.45"/><path d="M9.6,-0.3 C10.7,-0.3 11.6,-1.3 12.2,-3.0" stroke-width="0.75"/></g><polyline points="12.20,-12.1 14.70,-14.8 17.20,-12.1" fill="none" stroke="#000" stroke-width="0.9"/><path d="M27.90,-16.1 Q17.90,-5.4 27.90,5.3 Q20.20,-5.4 27.90,-16.1Z" fill="#000" stroke="#000" stroke-width="0.5" stroke-linejoin="round"/><g transform="translate(30.40,0)" fill="none" stroke="#000" stroke-linecap="round" stroke-linejoin="round"><path d="M1.5,-6.6 C2.1,-8.6 3.5,-9.3 4.9,-8.5 C6.3,-7.7 8.1,-7.5 9.2,-9.0" stroke-width="1.35"/><path d="M9.2,-9.0 L0.8,-0.3" stroke-width="0.75"/><path d="M0.8,-0.3 C1.9,-2.0 3.5,-1.9 4.9,-1.0 C6.3,-0.1 7.9,0.1 8.6,-2.6" stroke-width="1.35"/></g><text transform="translate(39.94,2.90) scale(1.115,1)" style="font-style:normal;font-weight:normal;font-size:14.74px">0</text><path d="M52.70,-16.1 Q62.70,-5.4 52.70,5.3 Q60.40,-5.4 52.70,-16.1Z" fill="#000" stroke="#000" stroke-width="0.5" stroke-linejoin="round"/><polyline points="60.30,-16.1 64.90,-5.4 60.30,5.3" fill="none" stroke="#000" stroke-width="1" stroke-linejoin="miter"/><line x1="69.90" y1="4.7" x2="77.00" y2="-16.3" stroke="#000" stroke-width="1.05"/><g transform="translate(79.30,0)" fill="none" stroke="#000" stroke-linecap="round" stroke-linejoin="round"><path d="M0.3,-6.3 C0.8,-8.2 1.8,-9.2 2.8,-9.1" stroke-width="0.75"/><path d="M2.8,-9.1 C3.9,-9.0 3.9,-7.8 3.6,-6.6 L2.1,-0.5" stroke-width="1.45"/><path d="M3.3,-5.6 C4.7,-8.0 6.4,-9.2 7.9,-9.1" stroke-width="0.8"/><path d="M7.9,-9.1 C9.6,-9.0 9.9,-7.6 9.5,-6.0 L8.7,-2.7 C8.3,-1.0 8.7,-0.3 9.6,-0.3" stroke-width="1.45"/><path d="M9.6,-0.3 C10.7,-0.3 11.6,-1.3 12.2,-3.0" stroke-width="0.75"/></g><text transform="translate(91.44,2.90) scale(1.115,1)" style="font-style:normal;font-weight:normal;font-size:14.74px">0</text></g>
<g transform="translate(0,249.5)"><path d="M651.20,-16.1 Q641.20,-5.4 651.20,5.3 Q643.50,-5.4 651.20,-16.1Z" fill="#000" stroke="#000" stroke-width="0.5" stroke-linejoin="round"/><text transform="translate(652.05,0.15) scale(1.122,1)" style="font-style:normal;font-weight:normal;font-size:21.74px">d</text><path d="M666.50,-16.1 Q676.50,-5.4 666.50,5.3 Q674.20,-5.4 666.50,-16.1Z" fill="#000" stroke="#000" stroke-width="0.5" stroke-linejoin="round"/></g>
</g>
</svg>
</body></html>
